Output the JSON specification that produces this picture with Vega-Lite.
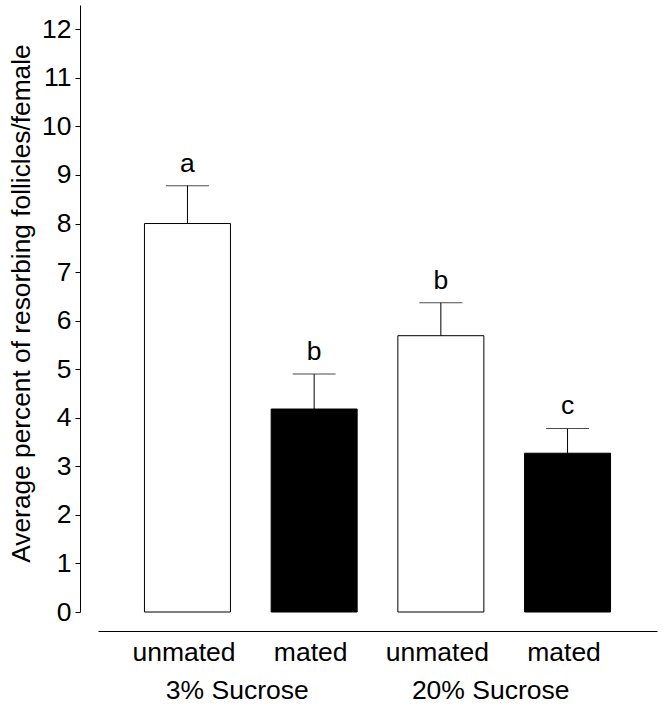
{
  "$schema": "https://vega.github.io/schema/vega-lite/v6.json",
  "autosize": "none",
  "width": 559,
  "height": 607,
  "padding": {"left": 98, "top": 5, "right": 7, "bottom": 94},
  "background": "white",
  "config": {
    "view": {"stroke": null},
    "font": "Liberation Sans",
    "axis": {
      "grid": false,
      "domainColor": "black",
      "tickColor": "black",
      "labelColor": "black",
      "titleColor": "black",
      "labelFont": "Liberation Sans",
      "titleFont": "Liberation Sans",
      "labelFontSize": 26.5,
      "titleFontSize": 26.3,
      "titleFontWeight": "normal"
    }
  },
  "data": {
    "values": [
      {"pos": 1, "treatment": "unmated", "sucrose": "3% Sucrose", "mean": 8.0, "upper": 8.78, "letter": "a"},
      {"pos": 2, "treatment": "mated", "sucrose": "3% Sucrose", "mean": 4.18, "upper": 4.9, "letter": "b"},
      {"pos": 3, "treatment": "unmated", "sucrose": "20% Sucrose", "mean": 5.69, "upper": 6.37, "letter": "b"},
      {"pos": 4, "treatment": "mated", "sucrose": "20% Sucrose", "mean": 3.27, "upper": 3.78, "letter": "c"}
    ]
  },
  "layer": [
    {
      "mark": {"type": "bar", "width": 86, "stroke": "black", "strokeWidth": 1},
      "encoding": {
        "x": {
          "field": "pos", "type": "quantitative",
          "scale": {"domain": [0.3333, 4.6667], "nice": false, "zero": false},
          "axis": {
            "orient": "bottom",
            "values": [1, 2, 3, 4],
            "labelExpr": "datum.value % 2 == 1 ? 'unmated' : 'mated'",
            "ticks": false,
            "offset": 19,
            "labelPadding": 8,
            "labelOffset": -4,
            "domainWidth": 1,
            "title": null
          }
        },
        "y": {
          "field": "mean", "type": "quantitative",
          "scale": {"domain": [0, 12.5], "nice": false},
          "axis": {
            "values": [0, 1, 2, 3, 4, 5, 6, 7, 8, 9, 10, 11, 12],
            "offset": 18,
            "tickSize": 5,
            "labelPadding": 4,
            "title": "Average percent of resorbing follicles/female",
            "titlePadding": 6,
            "titleY": 298
          }
        },
        "color": {
          "field": "treatment", "type": "nominal",
          "scale": {"domain": ["unmated", "mated"], "range": ["white", "black"]},
          "legend": null
        }
      }
    },
    {
      "mark": {"type": "rule", "color": "black", "strokeWidth": 1},
      "encoding": {
        "x": {"field": "pos", "type": "quantitative", "axis": null},
        "y": {"field": "mean", "type": "quantitative"},
        "y2": {"field": "upper"}
      }
    },
    {
      "mark": {"type": "tick", "orient": "horizontal", "size": 43, "thickness": 1, "color": "black"},
      "encoding": {
        "x": {"field": "pos", "type": "quantitative", "axis": null},
        "y": {"field": "upper", "type": "quantitative"}
      }
    },
    {
      "mark": {"type": "text", "fontSize": 26.5, "dy": -14, "baseline": "alphabetic", "color": "black", "font": "Liberation Sans"},
      "encoding": {
        "x": {"field": "pos", "type": "quantitative", "axis": null},
        "y": {"field": "upper", "type": "quantitative"},
        "text": {"field": "letter"}
      }
    },
    {
      "transform": [
        {"aggregate": [{"op": "mean", "field": "pos", "as": "center"}], "groupby": ["sucrose"]}
      ],
      "mark": {"type": "point", "opacity": 0},
      "encoding": {
        "x": {
          "field": "center", "type": "quantitative",
          "axis": {
            "orient": "bottom",
            "values": [1.5, 3.5],
            "labelExpr": "datum.value < 2.5 ? '3% Sucrose' : '20% Sucrose'",
            "domain": false,
            "ticks": false,
            "offset": 19,
            "labelPadding": 46,
            "labelOffset": -14,
            "title": null
          }
        },
        "y": {"datum": 0, "type": "quantitative"}
      }
    }
  ],
  "resolve": {"axis": {"x": "independent"}}
}
